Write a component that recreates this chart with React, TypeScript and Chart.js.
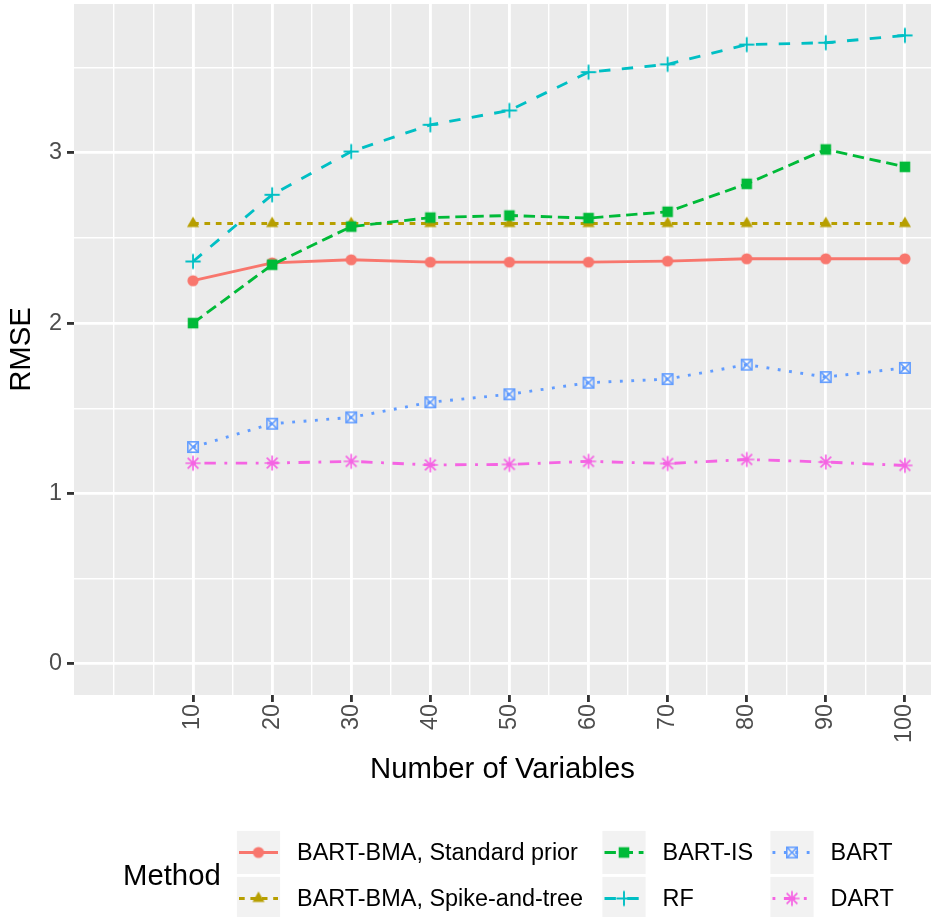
import React, { useEffect, useRef } from 'react';
import { Chart, registerables } from 'chart.js';

Chart.register(...registerables);

// ---- data ----
const numVariables = [10, 20, 30, 40, 50, 60, 70, 80, 90, 100];
const methodNames = [
  'BART-BMA, Standard prior',
  'BART-BMA, Spike-and-tree',
  'BART-IS',
  'RF',
  'BART',
  'DART',
];
const standardPrior = [2.249, 2.354, 2.372, 2.358, 2.358, 2.358, 2.364, 2.378, 2.378, 2.378];
const spikeAndTree = [2.585, 2.585, 2.585, 2.585, 2.585, 2.585, 2.585, 2.585, 2.585, 2.585];
const bartIS = [2.0, 2.343, 2.567, 2.62, 2.632, 2.617, 2.654, 2.818, 3.02, 2.918];
const rf = [2.362, 2.754, 3.008, 3.165, 3.249, 3.474, 3.52, 3.636, 3.647, 3.69];
const bart = [1.272, 1.409, 1.446, 1.535, 1.582, 1.65, 1.671, 1.756, 1.683, 1.737];
const dart = [1.177, 1.178, 1.188, 1.167, 1.17, 1.188, 1.175, 1.199, 1.184, 1.164];
const seriesValues = [standardPrior, spikeAndTree, bartIS, rf, bart, dart];
const yTickValues = [0, 0.5, 1, 1.5, 2, 2.5, 3, 3.5];
const yTickLabels = ['0', '', '1', '', '2', '', '3', ''];
const xTickValues = [0, 5, 10, 15, 20, 25, 30, 35, 40, 45, 50, 55, 60, 65, 70, 75, 80, 85, 90, 95, 100];

// ---- styles ----
const colors = ['#F8766D', '#B79F00', '#00BA38', '#00BFC4', '#619CFF', '#F564E3'];
const U = 2.85; // line width in px
const dashes: number[][] = [
  [],
  [2 * U, 2 * U],
  [4 * U, 2 * U],
  [4 * U, 4 * U],
  [1 * U, 3 * U],
  [1 * U, 3 * U, 4 * U, 3 * U],
];
const shapes = ['circle', 'triangle', 'square', 'plus', 'squarecross', 'asterisk'];

function makeMarker(shape: string, color: string): HTMLCanvasElement {
  const c = document.createElement('canvas');
  c.width = 20;
  c.height = 20;
  const g = c.getContext('2d')!;
  const cx = 10, cy = 10;
  g.fillStyle = color;
  g.strokeStyle = color;
  g.lineWidth = 1.9;
  g.lineCap = 'butt';
  if (shape === 'circle') {
    g.beginPath();
    g.arc(cx, cy, 5.6, 0, Math.PI * 2);
    g.fill();
  } else if (shape === 'triangle') {
    const r = 7;
    g.beginPath();
    g.moveTo(cx, cy - r);
    g.lineTo(cx + r * 0.866, cy + r * 0.5);
    g.lineTo(cx - r * 0.866, cy + r * 0.5);
    g.closePath();
    g.fill();
  } else if (shape === 'square') {
    g.fillRect(cx - 5.3, cy - 5.3, 10.6, 10.6);
  } else if (shape === 'plus') {
    const r = 7.6;
    g.beginPath();
    g.moveTo(cx - r, cy);
    g.lineTo(cx + r, cy);
    g.moveTo(cx, cy - r);
    g.lineTo(cx, cy + r);
    g.stroke();
  } else if (shape === 'squarecross') {
    const h = 5.2;
    g.lineWidth = 1.6;
    g.strokeRect(cx - h, cy - h, 2 * h, 2 * h);
    g.beginPath();
    g.moveTo(cx - h, cy - h);
    g.lineTo(cx + h, cy + h);
    g.moveTo(cx - h, cy + h);
    g.lineTo(cx + h, cy - h);
    g.stroke();
  } else if (shape === 'asterisk') {
    const r = 7.6;
    const d = r / Math.SQRT2;
    g.lineWidth = 1.7;
    g.beginPath();
    g.moveTo(cx - r, cy);
    g.lineTo(cx + r, cy);
    g.moveTo(cx, cy - r);
    g.lineTo(cx, cy + r);
    g.moveTo(cx - d, cy - d);
    g.lineTo(cx + d, cy + d);
    g.moveTo(cx - d, cy + d);
    g.lineTo(cx + d, cy - d);
    g.stroke();
  }
  return c;
}

const FONT = "'Liberation Sans', Arial, sans-serif";

export default function App() {
  const ref = useRef<HTMLCanvasElement | null>(null);

  useEffect(() => {
    document.body.style.margin = '0';
    const canvas = ref.current;
    if (!canvas) return;
    const markers = shapes.map((s, i) => makeMarker(s, colors[i]));

    const panelBg = {
      id: 'panelBg',
      beforeDraw(chart: any) {
        const { ctx, chartArea } = chart;
        ctx.save();
        ctx.fillStyle = '#EBEBEB';
        ctx.fillRect(chartArea.left, chartArea.top, chartArea.right - chartArea.left, chartArea.bottom - chartArea.top);
        ctx.restore();
      },
    };

    const legendPlugin = {
      id: 'ggLegend',
      afterDraw(chart: any) {
        const ctx = chart.ctx as CanvasRenderingContext2D;
        ctx.save();
        ctx.fillStyle = '#000000';
        ctx.font = `29.3px ${FONT}`;
        ctx.textBaseline = 'middle';
        ctx.textAlign = 'left';
        ctx.fillText('Method', 123, 877);
        const cols = [235.5, 601, 769];
        const rows = [829.5, 875.5];
        const key = 46;
        methodNames.forEach((name, i) => {
          const col = Math.floor(i / 2);
          const row = i % 2;
          const x0 = cols[col];
          const y0 = rows[row];
          ctx.fillStyle = '#F2F2F2';
          ctx.fillRect(x0, y0, key, key);
          ctx.strokeStyle = '#FFFFFF';
          ctx.lineWidth = U;
          ctx.strokeRect(x0, y0, key, key);
          const cy = y0 + key / 2;
          ctx.strokeStyle = colors[i];
          ctx.lineWidth = U;
          ctx.lineCap = 'butt';
          ctx.setLineDash(dashes[i]);
          ctx.beginPath();
          ctx.moveTo(x0 + 3.5, cy);
          ctx.lineTo(x0 + key - 3.5, cy);
          ctx.stroke();
          ctx.setLineDash([]);
          const m = markers[i];
          ctx.drawImage(m, x0 + key / 2 - m.width / 2, cy - m.height / 2);
          ctx.fillStyle = '#000000';
          ctx.font = `23.45px ${FONT}`;
          ctx.textBaseline = 'middle';
          ctx.fillText(name, x0 + key + 15.5, cy + 1);
        });
        ctx.restore();
      },
    };

    const isMajorX = (v: number) => v >= 10 && v % 10 === 0;
    const isMajorY = (v: number) => Number.isInteger(v);

    const chart = new Chart(canvas, {
      type: 'line',
      data: {
        datasets: methodNames.map((name, i) => ({
          label: name,
          data: numVariables.map((x, j) => ({ x, y: seriesValues[i][j] })),
          borderColor: colors[i],
          backgroundColor: colors[i],
          borderWidth: U,
          borderDash: dashes[i],
          borderCapStyle: 'butt' as const,
          borderJoinStyle: 'round' as const,
          tension: 0,
          pointStyle: markers[i] as any,
          pointRadius: 6,
          pointHoverRadius: 6,
          fill: false,
          order: 6 - i,
        })),
      },
      plugins: [panelBg, legendPlugin],
      options: {
        animation: false,
        responsive: false,
        maintainAspectRatio: false,
        events: [],
        layout: { autoPadding: false, padding: { left: 0, right: 0, top: 4, bottom: 917 - 791.5 } },
        plugins: {
          legend: { display: false },
          tooltip: { enabled: false },
          title: { display: false },
        },
        scales: {
          x: {
            type: 'linear',
            min: -5.05,
            max: 103.3,
            afterBuildTicks: (scale: any) => {
              scale.ticks = xTickValues.map((v) => ({ value: v }));
            },
            afterFit: (scale: any) => {
              scale.height = 791.5 - 695;
              scale.paddingLeft = 0;
              scale.paddingRight = 0;
            },
            border: { display: false },
            grid: {
              color: '#FFFFFF',
              lineWidth: (ctx: any) => (isMajorX(ctx.tick.value) ? U : U / 2),
              tickColor: (ctx: any) => (isMajorX(ctx.tick.value) ? '#333333' : 'rgba(0,0,0,0)'),
              tickWidth: U,
              tickLength: 7,
              drawTicks: true,
            },
            ticks: {
              autoSkip: false,
              minRotation: 90,
              maxRotation: 90,
              padding: 2,
              color: '#4D4D4D',
              font: { family: FONT, size: 23.45 },
              callback: (v: any) => (isMajorX(Number(v)) ? String(v) : ''),
            },
            title: {
              display: true,
              text: 'Number of Variables',
              color: '#000000',
              font: { family: FONT, size: 29.3 },
              padding: { top: 4, bottom: 4 },
            },
          },
          y: {
            type: 'linear',
            min: -0.1845,
            max: 3.8745,
            afterBuildTicks: (scale: any) => {
              scale.ticks = yTickValues.map((v) => ({ value: v }));
            },
            afterFit: (scale: any) => {
              scale.width = 74;
              scale.paddingTop = 0;
              scale.paddingBottom = 0;
            },
            border: { display: false },
            grid: {
              color: '#FFFFFF',
              lineWidth: (ctx: any) => (isMajorY(ctx.tick.value) ? U : U / 2),
              tickColor: (ctx: any) => (isMajorY(ctx.tick.value) ? '#333333' : 'rgba(0,0,0,0)'),
              tickWidth: U,
              tickLength: 7,
              drawTicks: true,
            },
            ticks: {
              autoSkip: false,
              padding: 5,
              color: '#4D4D4D',
              font: { family: FONT, size: 23.45 },
              callback: (v: any) => {
                const idx = yTickValues.indexOf(Number(v));
                return idx >= 0 ? yTickLabels[idx] : '';
              },
            },
            title: {
              display: true,
              text: 'RMSE',
              color: '#000000',
              font: { family: FONT, size: 29.3 },
              padding: { top: 4, bottom: 4 },
            },
          },
        },
      },
    });

    return () => {
      chart.destroy();
    };
  }, []);

  return (
    <div style={{ width: 931, height: 917, background: '#FFFFFF' }}>
      <canvas ref={ref} width={931} height={917} style={{ display: 'block', width: 931, height: 917 }} />
    </div>
  );
}
